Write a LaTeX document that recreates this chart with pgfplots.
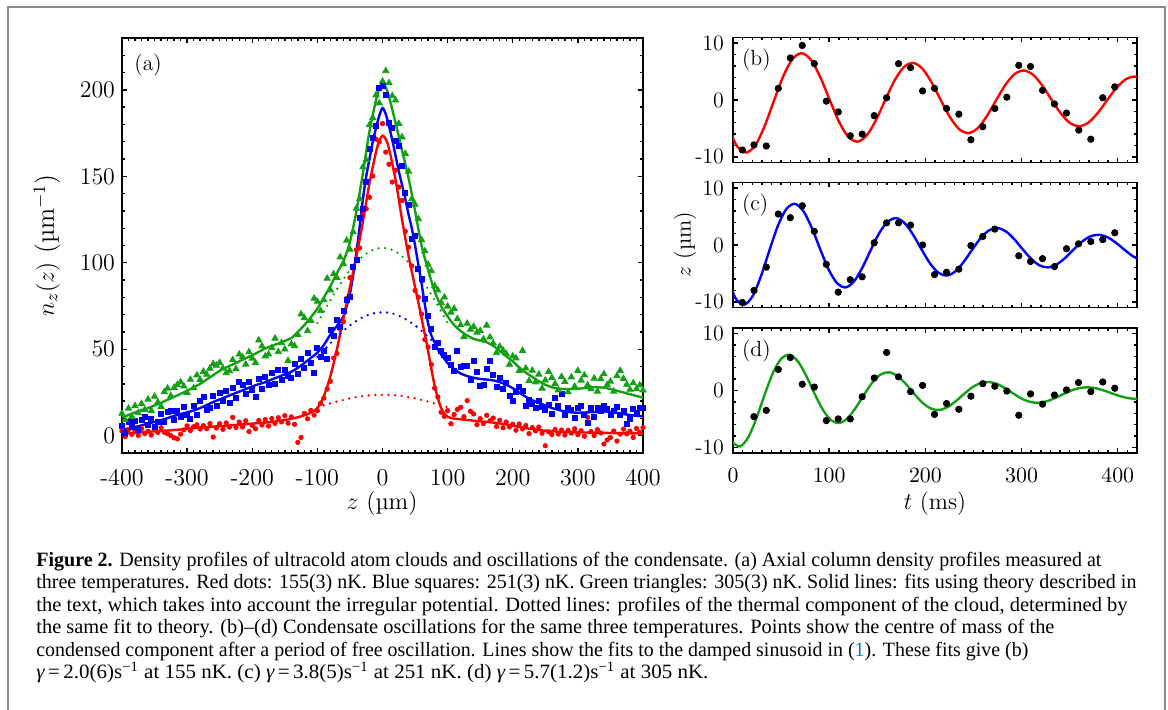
\documentclass[border=0pt]{standalone}
\usepackage{fontspec}
\usepackage{graphicx}
\usepackage{pgfplots}
\pgfplotsset{compat=1.18}
\newfontfamily\capfont{Liberation Serif}
\definecolor{fitred}{RGB}{255,0,0}
\definecolor{fitblue}{RGB}{0,0,255}
\definecolor{fitgreen}{RGB}{20,160,20}
\definecolor{framegray}{RGB}{140,140,140}
\definecolor{linkblue}{RGB}{0,125,200}
\newcommand{\labA}{\fontsize{12.1}{14}\selectfont}
\newcommand{\labB}{\fontsize{11}{13}\selectfont}
\newcommand{\labP}{\fontsize{11}{13}\selectfont}
\pgfplotsset{
  myax/.style={
    scale only axis,
    axis line style={line width=0.9bp},
    tick align=inside,
    tick style={black, line width=0.7bp},
    major tick length=2.4bp,
    minor tick length=1.3bp,
  },
  fitline/.style={line width=1.2bp, smooth},
  dotline/.style={line width=1.3bp, line cap=round, dash pattern=on 0bp off 3.3bp, smooth},
}
\begin{document}
\begin{tikzpicture}
\path[use as bounding box] (0,0) rectangle (584bp,-355bp);
\draw[framegray, line width=1bp] (4.15bp,-355bp) -- (4.15bp,-3.5bp) -- (582.65bp,-3.5bp) -- (582.65bp,-355bp);

% ---------------- panel (a)
\begin{axis}[myax, at={(61bp,-226.5bp)}, anchor=south west, width=260.5bp, height=207.5bp,
  tick label style={font=\labA},
  xmin=-400, xmax=400, ymin=-10, ymax=230,
  xtick={-400,-300,...,400}, xticklabels={-400,-300,-200,-100,0,100,200,300,400},
  ytick={0,50,100,150,200},
  minor xtick={-400,-390,...,400}, minor ytick={-10,0,...,230},
  xticklabel style={yshift=-4.6bp}, yticklabel style={xshift=0bp}]
\addplot[only marks, mark=*, mark size=1.1bp, fitred] coordinates {
(-400,2.8)(-395,-0.5)(-390,3.5)(-385,0.8)(-380,2.9)(-375,0.2)(-370,4.1)(-365,1.2)(-360,2.6)(-355,0.4)(-350,3.8)(-345,1.9)(-340,4.6)(-335,2.0)(-330,1.1)(-325,0.0)(-320,-1.2)(-315,-1.8)(-310,0.9)(-305,3.4)(-300,5.7)(-295,3.0)(-290,5.2)(-285,6.3)(-280,3.9)(-275,5.8)(-270,4.1)(-265,7.0)(-260,-0.8)(-255,4.5)(-250,6.9)(-245,3.7)(-240,7.4)(-235,5.0)(-230,10.6)(-225,4.8)(-220,7.9)(-215,5.1)(-210,8.6)(-205,2.4)(-200,5.9)(-195,4.0)(-190,8.8)(-185,6.2)(-180,9.3)(-175,5.6)(-170,9.9)(-165,7.1)(-160,10.4)(-155,8.0)(-150,11.6)(-145,7.3)(-140,10.9)(-135,6.6)(-130,-3.9)(-125,-1.0)(-120,12.9)(-115,9.8)(-110,14.6)(-105,11.9)(-100,14.5)(-95,18.7)(-90,21.8)(-85,27.0)(-80,31.5)(-75,44.9)(-70,47.6)(-65,61.8)(-60,66.0)(-55,79.5)(-50,91.4)(-45,96.8)(-40,107.5)(-35,108.6)(-30,127.7)(-25,131.3)(-20,137.9)(-15,150.2)(-10,171.5)(-5,169.9)(0,180.5)(5,164.0)(10,157.0)(15,146.7)(20,153.5)(25,143.8)(30,136.0)(35,118.2)(40,109.0)(45,98.2)(50,84.0)(55,80.1)(60,70.4)(65,55.6)(70,51.3)(75,41.2)(80,27.5)(85,22.4)(90,13.6)(95,11.2)(100,14.5)(105,6.9)(110,12.3)(115,15.2)(120,16.4)(125,11.0)(130,20.3)(135,14.1)(140,12.6)(145,6.4)(150,9.9)(155,7.0)(160,11.8)(165,8.7)(170,10.2)(175,5.3)(180,8.9)(185,4.6)(190,7.9)(195,5.1)(200,6.6)(205,3.2)(210,6.8)(215,4.0)(220,5.9)(225,1.2)(230,4.7)(235,2.8)(240,5.0)(245,1.4)(250,-5.8)(255,2.3)(260,0.7)(265,3.6)(270,1.0)(275,3.3)(280,0.4)(285,3.1)(290,1.5)(295,4.0)(300,0.6)(305,2.9)(310,-0.3)(315,10.6)(320,2.4)(325,0.1)(330,3.5)(335,1.6)(340,-4.8)(345,-2.4)(350,-1.0)(355,2.7)(360,-3.1)(365,0.9)(370,3.8)(375,1.1)(380,2.6)(385,-1.0)(390,4.2)(395,2.0)(400,4.7)};
\addplot[only marks, mark=square*, mark size=1.25bp, fitblue] coordinates {
(-400,5.8)(-395,1.9)(-390,8.0)(-385,5.2)(-380,8.4)(-375,3.3)(-370,9.1)(-365,10.6)(-360,6.2)(-355,10.0)(-350,4.9)(-345,8.1)(-340,12.7)(-335,7.8)(-330,13.5)(-325,14.6)(-320,9.2)(-315,14.4)(-310,10.8)(-305,16.6)(-300,12.1)(-295,9.7)(-290,17.4)(-285,12.0)(-280,20.3)(-275,22.5)(-270,15.2)(-265,16.3)(-260,23.2)(-255,17.3)(-250,24.6)(-245,20.0)(-240,25.8)(-235,19.1)(-230,27.9)(-225,21.6)(-220,31.1)(-215,29.3)(-210,24.2)(-205,31.0)(-200,26.3)(-195,22.4)(-190,33.0)(-185,27.1)(-180,33.8)(-175,29.5)(-170,36.4)(-165,30.1)(-160,38.1)(-155,32.5)(-150,37.9)(-145,34.8)(-140,33.2)(-135,41.6)(-130,36.0)(-125,44.7)(-120,39.5)(-115,47.9)(-110,42.1)(-105,36.5)(-100,50.8)(-95,45.7)(-90,49.0)(-85,44.4)(-80,61.2)(-75,58.0)(-70,66.9)(-65,63.1)(-60,72.3)(-55,78.8)(-50,80.4)(-45,97.5)(-40,101.6)(-35,126.2)(-30,131.4)(-25,147.0)(-20,165.8)(-15,172.5)(-10,178.9)(-5,201.0)(0,202.5)(5,196.9)(10,181.1)(15,178.3)(20,170.4)(25,167.5)(30,156.0)(35,140.7)(40,133.5)(45,113.8)(50,115.6)(55,96.7)(60,90.5)(65,79.1)(70,69.3)(75,62.0)(80,51.5)(85,53.6)(90,49.3)(95,47.0)(100,45.0)(105,41.1)(110,37.2)(115,49.2)(120,39.8)(125,40.3)(130,40.6)(135,32.1)(140,43.5)(145,36.7)(150,28.8)(155,29.2)(160,38.9)(165,43.4)(170,35.0)(175,28.5)(180,33.7)(185,27.1)(190,30.4)(195,22.8)(200,20.3)(205,25.5)(210,28.3)(215,26.1)(220,17.4)(225,20.6)(230,18.2)(235,16.0)(240,20.4)(245,16.5)(250,14.9)(255,18.0)(260,12.8)(265,21.7)(270,17.0)(275,24.1)(280,11.8)(285,16.3)(290,14.9)(295,10.2)(300,16.1)(305,17.1)(310,12.1)(315,7.7)(320,16.2)(325,11.0)(330,15.8)(335,14.2)(340,17.3)(345,15.3)(350,11.9)(355,14.2)(360,16.4)(365,12.2)(370,14.4)(375,6.8)(380,10.0)(385,15.6)(390,13.1)(395,15.9)(400,15.8)};
\addplot[only marks, mark=triangle*, mark size=1.8bp, fitgreen] coordinates {
(-400,12.9)(-395,9.1)(-390,15.8)(-385,11.0)(-380,17.3)(-375,13.2)(-370,18.5)(-365,15.0)(-360,21.0)(-355,14.4)(-350,22.7)(-345,19.4)(-340,16.8)(-335,25.3)(-330,27.4)(-325,23.0)(-320,27.8)(-315,29.5)(-310,31.0)(-305,28.6)(-300,24.9)(-295,32.5)(-290,27.6)(-285,35.0)(-280,32.4)(-275,37.1)(-270,35.4)(-265,38.9)(-260,41.5)(-255,40.6)(-250,42.2)(-245,39.0)(-240,36.3)(-235,37.5)(-230,43.9)(-225,38.6)(-220,47.1)(-215,45.5)(-210,41.3)(-205,48.4)(-200,44.7)(-195,42.2)(-190,55.2)(-185,51.8)(-180,46.0)(-175,47.1)(-170,50.9)(-165,56.3)(-160,48.5)(-155,53.7)(-150,50.0)(-145,43.4)(-140,53.0)(-135,51.9)(-130,58.4)(-125,70.3)(-120,68.1)(-115,60.6)(-110,66.5)(-105,79.4)(-100,77.6)(-95,72.2)(-90,78.5)(-85,91.0)(-80,84.2)(-75,93.5)(-70,91.4)(-65,103.3)(-60,99.4)(-55,113.0)(-50,107.7)(-45,117.8)(-40,131.5)(-35,137.0)(-30,155.4)(-25,159.5)(-20,179.8)(-15,183.9)(-10,197.0)(-5,192.3)(0,205.0)(5,211.0)(10,204.0)(15,196.5)(20,194.0)(25,180.5)(30,172.7)(35,163.1)(40,152.9)(45,137.0)(50,133.7)(55,125.4)(60,113.2)(65,106.8)(70,99.0)(75,95.3)(80,86.7)(85,84.1)(90,77.0)(95,80.1)(100,74.8)(105,71.3)(110,73.5)(115,67.6)(120,64.0)(125,57.2)(130,64.9)(135,61.4)(140,63.1)(145,59.8)(150,60.7)(155,55.9)(160,63.8)(165,57.0)(170,53.5)(175,47.9)(180,51.6)(185,49.4)(190,47.3)(195,41.2)(200,46.0)(205,44.8)(210,37.6)(215,49.2)(220,39.0)(225,31.8)(230,37.7)(235,31.0)(240,35.5)(245,27.4)(250,32.1)(255,37.0)(260,33.6)(265,30.0)(270,26.4)(275,34.1)(280,31.2)(285,25.3)(290,33.9)(295,28.5)(300,37.6)(305,32.0)(310,35.0)(315,29.3)(320,27.0)(325,33.2)(330,25.6)(335,32.9)(340,35.7)(345,29.4)(350,31.4)(355,25.6)(360,34.6)(365,37.6)(370,33.0)(375,29.6)(380,26.7)(385,30.5)(390,27.0)(395,29.2)(400,26.3)};
% fits
\addplot[fitgreen, fitline] coordinates {
(-400,10.5)(-390,12.0)(-380,13.5)(-370,14.8)(-360,16.0)(-350,17.5)(-340,19.0)(-330,20.8)(-320,22.5)(-310,24.2)(-300,26.0)(-290,28.0)(-280,30.0)(-270,32.5)(-260,35.0)(-250,37.5)(-240,39.5)(-230,41.2)(-220,43.0)(-210,44.8)(-200,46.5)(-190,48.5)(-180,50.5)(-170,52.0)(-160,53.3)(-150,54.8)(-140,56.5)(-130,60.0)(-120,64.0)(-110,68.5)(-100,73.5)(-90,80.0)(-80,86.5)(-70,94.0)(-60,101.0)(-50,112.0)(-40,130.0)(-30,152.0)(-20,176.0)(-10,194.0)(-5,200.5)(0,203.7)(5,201.5)(10,196.0)(20,181.0)(30,165.0)(40,149.0)(50,130.0)(60,110.0)(70,96.0)(80,83.5)(90,75.0)(100,69.0)(110,64.0)(120,60.5)(130,58.0)(140,56.0)(150,55.0)(160,54.0)(170,52.0)(180,49.0)(190,46.0)(200,43.0)(210,39.5)(220,36.5)(230,34.0)(240,31.5)(250,29.5)(260,28.0)(270,27.2)(280,27.0)(290,27.0)(300,27.2)(310,27.5)(320,28.0)(330,28.0)(340,27.8)(350,27.0)(360,26.0)(370,25.0)(380,24.0)(390,23.0)(400,22.0)};
\addplot[fitblue, fitline] coordinates {
(-400,3.5)(-390,4.2)(-380,5.0)(-370,6.0)(-360,7.0)(-350,8.0)(-340,9.0)(-330,10.2)(-320,11.5)(-310,12.5)(-300,13.5)(-290,14.6)(-280,16.0)(-270,17.7)(-260,19.5)(-250,21.0)(-240,22.5)(-230,24.0)(-220,25.5)(-210,27.0)(-200,28.5)(-190,29.8)(-180,31.0)(-170,32.5)(-160,34.0)(-150,35.5)(-140,37.0)(-130,39.3)(-120,42.0)(-110,45.0)(-100,48.0)(-90,52.5)(-80,58.5)(-70,63.5)(-60,69.0)(-55,75.0)(-50,82.0)(-45,93.0)(-40,106.0)(-35,121.0)(-30,137.0)(-25,150.0)(-20,160.0)(-15,170.0)(-10,178.0)(-5,185.0)(0,189.5)(5,186.0)(10,179.0)(15,171.0)(20,162.0)(25,153.0)(30,145.0)(35,137.0)(40,128.0)(45,120.0)(50,110.0)(55,99.0)(60,88.0)(65,76.0)(70,65.0)(75,58.0)(80,54.0)(85,50.0)(90,47.0)(95,44.5)(100,42.0)(110,38.5)(120,36.0)(130,34.5)(140,33.5)(150,32.8)(160,32.5)(170,32.0)(180,31.0)(190,29.5)(200,27.5)(210,25.0)(220,22.5)(230,20.5)(240,19.0)(250,17.5)(260,16.0)(270,15.0)(280,14.0)(290,13.5)(300,13.3)(310,13.4)(320,13.6)(330,13.8)(340,14.0)(350,13.8)(360,13.2)(370,12.5)(380,12.0)(390,11.5)(400,11.2)};
\addplot[fitred, fitline] coordinates {
(-400,1.0)(-390,1.3)(-380,1.7)(-370,2.0)(-360,2.3)(-350,2.5)(-340,2.8)(-330,3.0)(-320,3.3)(-310,3.6)(-300,4.0)(-290,4.4)(-280,4.8)(-270,5.0)(-260,5.3)(-250,5.5)(-240,5.8)(-230,6.1)(-220,6.4)(-210,6.7)(-200,7.0)(-190,7.3)(-180,7.6)(-170,8.0)(-160,8.5)(-150,9.1)(-140,9.8)(-130,10.7)(-120,11.8)(-110,13.3)(-100,16.0)(-90,23.0)(-80,34.5)(-70,50.0)(-60,68.0)(-50,86.0)(-40,104.0)(-30,124.0)(-20,146.0)(-10,164.0)(-5,170.5)(0,173.5)(5,171.5)(10,166.0)(20,148.0)(30,125.0)(40,104.0)(50,86.0)(60,68.0)(70,49.0)(80,29.0)(90,16.0)(100,11.0)(110,9.9)(120,9.5)(130,9.1)(140,8.7)(150,8.3)(160,8.0)(170,7.6)(180,7.1)(190,6.5)(200,5.8)(210,5.1)(220,4.4)(230,3.8)(240,3.3)(250,2.9)(260,2.6)(270,2.3)(280,2.1)(290,2.0)(300,1.9)(320,1.8)(340,1.65)(360,1.5)(380,1.4)(400,1.3)};
% thermal (dotted)
\addplot[fitgreen, dotline] coordinates {
(-100,65.2)(-90,71.9)(-80,78.4)(-70,84.7)(-60,90.5)(-50,95.7)(-40,100.2)(-30,103.8)(-20,106.5)(-10,108.1)(0,108.7)(10,108.1)(20,106.5)(30,103.8)(40,100.2)(50,95.7)(60,90.5)(70,84.7)(80,78.4)(90,71.9)(100,65.2)};
\addplot[fitblue, dotline] coordinates {
(-100,45.5)(-90,49.4)(-80,53.5)(-70,57.2)(-60,60.7)(-50,63.8)(-40,66.4)(-30,68.6)(-20,70.1)(-10,71.1)(0,71.4)(10,71.1)(20,70.1)(30,68.6)(40,66.4)(50,63.8)(60,60.7)(70,57.2)(80,53.5)(90,49.4)(100,45.5)};
\addplot[fitred, dotline] coordinates {
(-100,16.4)(-90,17.6)(-80,18.7)(-70,19.8)(-60,20.7)(-50,21.6)(-40,22.3)(-30,22.9)(-20,23.35)(-10,23.6)(0,23.7)(10,23.6)(20,23.35)(30,22.9)(40,22.3)(50,21.6)(60,20.7)(70,19.8)(80,18.7)(90,17.6)(100,16.4)};
\end{axis}

% ---------------- panel (b)
\begin{axis}[myax, at={(366.5bp,-81.25bp)}, anchor=south west, width=202bp, height=62.5bp,
  tick label style={font=\labB},
  xmin=0, xmax=420, ymin=-11, ymax=11,
  xtick={0,100,...,400}, xticklabels={},
  ytick={-10,0,10}, yticklabels={-10,0,10},
  minor xtick={0,10,...,420}, minor ytick={-10,-8,...,10},
  yticklabel style={xshift=-1bp}]
\addplot[fitred, fitline] coordinates {
(-5.23,-4.80)(4.38,-8.16)(14,-9.24)(23.62,-7.85)(33.23,-4.44)(42.85,0)(52.47,4.28)(62.09,7.27)(71.70,8.23)(81.32,6.99)(90.94,3.96)(100.55,0)(110.17,-3.81)(119.79,-6.48)(129.4,-7.33)(139.02,-6.23)(148.64,-3.53)(158.26,0)(167.87,3.40)(177.49,5.77)(187.11,6.53)(196.72,5.55)(206.34,3.14)(215.96,0)(225.57,-3.03)(235.19,-5.14)(244.81,-5.82)(254.43,-4.95)(264.04,-2.80)(273.66,0)(283.28,2.70)(292.89,4.58)(302.51,5.19)(312.13,4.41)(321.74,2.50)(331.36,0)(340.98,-2.40)(350.6,-4.08)(360.21,-4.62)(369.83,-3.93)(379.45,-2.22)(389.06,0)(398.68,2.14)(408.3,3.64)(417.91,4.12)(427.53,3.50)};
\addplot[only marks, mark=*, mark size=1.6bp, black] coordinates {
(9.7,-8.8)(21.8,-7.9)(34.6,-8.1)(47.1,2.05)(59.6,7.4)(72,9.6)(84.5,6.4)(97,-0.2)(109.4,-2.1)(121.9,-6.3)(134.3,-6.0)(146.8,-2.75)(159.7,0.4)(172.1,6.4)(184.6,5.7)(197.1,1.6)(209.5,2.05)(222,-1.5)(234.8,-2.5)(247.3,-7.0)(259.7,-4.7)(272.2,-1.5)(284.7,0.5)(297.1,6.1)(309.3,5.9)(321.8,1.7)(334.2,-0.7)(346.7,-2.3)(359.5,-5.3)(372,-6.9)(384.4,0.4)(396.9,2.3)};
\end{axis}

% ---------------- panel (c)
\begin{axis}[myax, at={(366.5bp,-153.75bp)}, anchor=south west, width=202bp, height=62.5bp,
  tick label style={font=\labB},
  xmin=0, xmax=420, ymin=-11, ymax=11,
  xtick={0,100,...,400}, xticklabels={},
  ytick={-10,0,10}, yticklabels={-10,0,10},
  minor xtick={0,10,...,420}, minor ytick={-10,-8,...,10},
  yticklabel style={xshift=-1bp}]
\addplot[fitblue, fitline] coordinates {
(-5.75,-5.97)(3.03,-9.47)(11.8,-10.50)(20.58,-8.94)(29.35,-5.36)(38.13,-0.8)(46.9,3.48)(55.68,6.38)(64.45,7.24)(73.23,5.95)(82.0,2.98)(90.78,-0.8)(99.55,-4.35)(108.33,-6.75)(117.1,-7.46)(125.88,-6.39)(134.65,-3.93)(143.43,-0.8)(152.2,2.14)(160.98,4.13)(169.75,4.72)(178.53,3.83)(187.3,1.79)(196.08,-0.8)(204.85,-3.24)(213.63,-4.89)(222.4,-5.37)(231.18,-4.64)(239.95,-2.95)(248.73,-0.8)(257.5,1.22)(266.28,2.59)(275.05,2.99)(283.83,2.38)(292.6,0.98)(301.38,-0.8)(310.15,-2.47)(318.93,-3.61)(327.7,-3.94)(336.48,-3.43)(345.25,-2.28)(354.03,-0.8)(362.8,0.59)(371.58,1.52)(380.35,1.80)(389.13,1.38)(397.9,0.42)(406.68,-0.8)(415.45,-1.95)(424.23,-2.72)};
\addplot[only marks, mark=*, mark size=1.6bp, black] coordinates {
(9.7,-10.1)(21.8,-8.0)(34.6,-3.9)(47.1,5.45)(59.6,4.8)(72,6.9)(84.5,2.4)(97,-3.4)(109.4,-8.3)(121.9,-6.1)(134.3,-5.6)(146.8,0.4)(159.7,3.9)(172.1,3.9)(184.6,3.5)(197.1,0.0)(209.5,-5.2)(222,-4.8)(234.8,-4.25)(247.3,-0.1)(259.7,1.5)(272.2,2.8)(297.1,-1.9)(309.3,-2.9)(321.8,-2.4)(334.2,-3.8)(346.7,-0.65)(359.2,0.2)(372,0.6)(384.4,0.95)(396.9,2.15)};
\end{axis}

% ---------------- panel (d)
\begin{axis}[myax, at={(366.5bp,-226.5bp)}, anchor=south west, width=202bp, height=62.5bp,
  tick label style={font=\labB},
  xmin=0, xmax=420, ymin=-11, ymax=11,
  xtick={0,100,...,400},
  ytick={-10,0,10}, yticklabels={-10,0,10},
  minor xtick={0,10,...,420}, minor ytick={-10,-8,...,10},
  xticklabel style={yshift=-4bp}, yticklabel style={xshift=-1bp}]
\addplot[fitgreen, fitline] coordinates {
(-1.33,-9.02)(7.3,-9.85)(15.93,-8.22)(24.55,-4.79)(33.18,-0.6)(41.8,3.20)(50.43,5.66)(59.05,6.28)(67.68,5.07)(76.3,2.52)(84.93,-0.6)(93.55,-3.43)(102.18,-5.26)(110.8,-5.72)(119.43,-4.82)(128.05,-2.92)(136.68,-0.6)(145.3,1.50)(153.93,2.86)(162.55,3.21)(171.18,2.53)(179.8,1.13)(188.43,-0.6)(197.05,-2.16)(205.68,-3.17)(214.3,-3.43)(222.93,-2.93)(231.55,-1.88)(240.18,-0.6)(248.8,0.56)(257.43,1.31)(266.05,1.50)(274.68,1.13)(283.3,0.36)(291.93,-0.6)(300.55,-1.47)(309.18,-2.02)(317.8,-2.16)(326.43,-1.89)(335.05,-1.31)(343.68,-0.6)(352.3,0.04)(360.93,0.46)(369.55,0.56)(378.18,0.36)(386.8,-0.07)(395.43,-0.6)(404.05,-1.08)(412.68,-1.39)(421.3,-1.46)(429.93,-1.31)};
\addplot[only marks, mark=*, mark size=1.6bp, black] coordinates {
(21.8,-4.6)(34.6,-3.5)(47.1,3.7)(59.6,5.8)(72,1.1)(84.5,0.6)(97,-5.3)(109.4,-5.0)(121.9,-5.0)(134.3,-1.1)(146.8,2.2)(159.7,6.7)(172.1,2.4)(184.6,-0.2)(197.1,0.9)(209.5,-4.2)(222,-2.3)(234.8,-3.3)(247.3,-1.0)(259.7,1.2)(272.2,0.75)(284.7,-0.1)(297.1,-4.35)(309.3,-0.6)(321.8,-2.4)(334.2,-0.8)(346.7,0.1)(359.2,1.4)(372,-0.2)(384.4,1.5)(396.9,0.4)};
\end{axis}

% ---------------- labels
\node[anchor=west, inner sep=0, font=\labP] at (67bp,-32.5bp) {(a)};
\node[anchor=west, inner sep=0, font=\labP] at (370.85bp,-30bp) {(b)};
\node[anchor=west, inner sep=0, font=\labP] at (370.85bp,-102.5bp) {(c)};
\node[anchor=west, inner sep=0, font=\labP] at (370.85bp,-175.5bp) {(d)};
\node[anchor=base, inner sep=0, font=\labA] at (191bp,-254.5bp) {$z$ (µm)};
\node[anchor=base, inner sep=0, font=\fontsize{11.8}{14}\selectfont] at (467.5bp,-254.5bp) {$t$ (ms)};
\node[rotate=90, inner sep=0, font=\fontsize{13}{15}\selectfont] at (23.5bp,-122.75bp) {$n_z(z)$ (µm$^{-1}$)};
\node[rotate=90, inner sep=0, font=\fontsize{11.2}{13}\selectfont] at (342.5bp,-122.5bp) {$z$ (µm)};

% ---------------- caption
\begin{scope}[every node/.style={anchor=base west, inner sep=0, font={\capfont\fontsize{10.2}{12}\selectfont}}]
\node at (18bp,-283bp) {\resizebox{532.5bp}{\height}{\textbf{Figure 2.} Density profiles of ultracold atom clouds and oscillations of the condensate. (a) Axial column density profiles measured at}};
\node at (18bp,-294.25bp) {\resizebox{550bp}{\height}{three temperatures. Red dots: 155(3) nK. Blue squares: 251(3) nK. Green triangles: 305(3) nK. Solid lines: fits using theory described in}};
\node at (18bp,-305.5bp) {\resizebox{545.5bp}{\height}{the text, which takes into account the irregular potential. Dotted lines: profiles of the thermal component of the cloud, determined by}};
\node at (18bp,-316.75bp) {\resizebox{509bp}{\height}{the same fit to theory. (b)–(d) Condensate oscillations for the same three temperatures. Points show the centre of mass of the}};
\node at (18bp,-328bp) {\resizebox{496bp}{\height}{condensed component after a period of free oscillation. Lines show the fits to the damped sinusoid in (\textcolor{linkblue}{1}). These fits give (b)}};
\node at (18bp,-339.25bp) {\resizebox{336bp}{\height}{{\itshape γ}\,=\,2.0(6)s\textsuperscript{−1} at 155 nK. (c) {\itshape γ}\,=\,3.8(5)s\textsuperscript{−1} at 251 nK. (d) {\itshape γ}\,=\,5.7(1.2)s\textsuperscript{−1} at 305 nK.}};
\end{scope}
\end{tikzpicture}
\end{document}
